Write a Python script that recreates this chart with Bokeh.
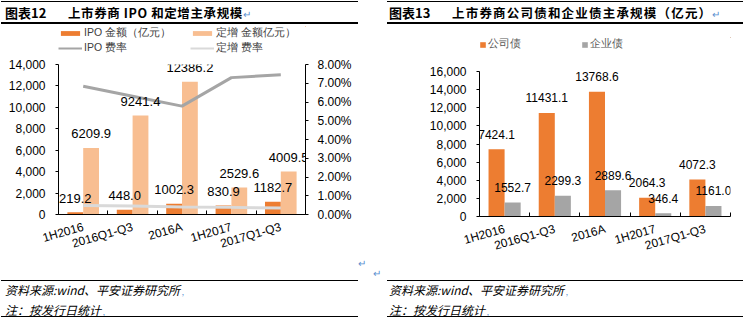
import numpy as np
from bokeh.plotting import figure
from bokeh.core.properties import value
from bokeh.models import (Range1d, LinearAxis, FixedTicker, NumeralTickFormatter, Legend,
                          LegendItem, LabelSet, ColumnDataSource, Div)
from bokeh.layouts import row, column
from bokeh.embed import file_html
from bokeh.resources import INLINE

# ---------------- data ----------------
periods = ["1H2016", "2016Q1-Q3", "2016A", "1H2017", "2017Q1-Q3"]
ipo_amount = [219.2, 448.0, 1002.3, 830.9, 1182.7]
placement_amount = [6209.9, 9241.4, 12386.2, 2529.6, 4009.5]
ipo_fee_rate = [0.0684, 0.0631, 0.0578, 0.0730, 0.0745]
placement_fee_rate = [0.0048, 0.0045, 0.0040, 0.0038, 0.0035]

corp_bond = [7424.1, 11431.1, 13768.6, 2064.3, 4072.3]
ent_bond = [1552.7, 2299.3, 2889.6, 346.4, 1161.0]

left_y_ticks = [0, 2000, 4000, 6000, 8000, 10000, 12000, 14000]
rate_ticks = [0.0, 0.01, 0.02, 0.03, 0.04, 0.05, 0.06, 0.07, 0.08]
right_y_ticks = [0, 2000, 4000, 6000, 8000, 10000, 12000, 14000, 16000]

# ---------------- styles ----------------
NUM_FONT = "Liberation Sans"
CJK_FONT = "Noto Sans CJK SC"
ORANGE = "#ED7D31"
LIGHT_ORANGE = "#F8BE91"
GRAY = "#A5A5A5"
LIGHT_GRAY = "#D9D9D9"

n = len(periods)
centers = np.arange(n) + 0.5
bw = 0.32
label_map = {float(c): name for c, name in zip(centers, periods)}
bounds = [float(b) for b in np.arange(n + 1)]


def style_x_axis(ax):
    ax.ticker = FixedTicker(ticks=[float(c) for c in centers], minor_ticks=bounds)
    ax.major_label_overrides = label_map
    ax.major_label_orientation = 0.28
    ax.major_label_text_font = NUM_FONT
    ax.major_label_text_font_size = "12px"
    ax.major_label_text_color = "#000000"
    ax.major_tick_line_color = None
    ax.major_tick_in = 0
    ax.major_tick_out = 0
    ax.minor_tick_line_color = "#000000"
    ax.minor_tick_in = 4
    ax.minor_tick_out = 0
    ax.axis_line_color = "#000000"
    ax.major_label_standoff = 12


def style_y_axis(ax, ticks, fmt, standoff=10):
    ax.ticker = FixedTicker(ticks=ticks)
    ax.formatter = NumeralTickFormatter(format=fmt)
    ax.major_label_text_font = NUM_FONT
    ax.major_label_text_font_size = "12px"
    ax.major_label_text_color = "#000000"
    ax.major_tick_line_color = "#000000"
    ax.major_tick_in = 0
    ax.major_tick_out = 3
    ax.minor_tick_line_color = None
    ax.axis_line_color = "#000000"
    ax.major_label_standoff = standoff


def legend_strip(width, height, left, top, bottom=0):
    # a strip that only holds the legend; its ranges lie away from the data, so the
    # series drawn here (same sources and styles as the chart) stay out of view
    f = figure(width=width, height=height, x_range=Range1d(-20, -19), y_range=Range1d(-2, -1),
               x_axis_type=None, y_axis_type=None, output_backend="svg", toolbar_location=None,
               min_border_left=left, min_border_top=top, min_border_right=0,
               min_border_bottom=bottom)
    f.outline_line_color = None
    f.xgrid.visible = False
    f.ygrid.visible = False
    return f


def make_legend(items, location, gw, gh, lw, color):
    lg = Legend(items=items, orientation="horizontal", location=location)
    lg.glyph_width = gw
    lg.glyph_height = gh
    lg.label_standoff = 2
    lg.label_width = lw
    lg.label_height = 8
    lg.spacing = 0
    lg.padding = 0
    lg.margin = 0
    lg.border_line_color = None
    lg.background_fill_alpha = 0
    lg.label_text_font = NUM_FONT
    lg.label_text_font_size = "10.5px"
    lg.label_text_color = color
    return lg


# ---------------- left chart ----------------
srcL = ColumnDataSource(dict(
    xc=centers,
    x_ipo=centers - bw / 2,
    x_pl=centers + bw / 2,
    ipo=ipo_amount,
    pl=placement_amount,
    ipo_txt=[f"{v:.1f}" for v in ipo_amount],
    pl_txt=[f"{v:.1f}" for v in placement_amount],
    ipo_rate=ipo_fee_rate,
    pl_rate=placement_fee_rate,
))

pL = figure(width=372, height=206, x_range=Range1d(0, n), y_range=Range1d(0, 14000),
            output_backend="svg", toolbar_location=None,
            min_border_left=58, min_border_right=67, min_border_top=8, min_border_bottom=48)
pL.extra_y_ranges = {"rate": Range1d(0, 0.08)}
pL.outline_line_color = None
pL.xgrid.visible = False
pL.ygrid.visible = False
style_x_axis(pL.xaxis[0])
style_y_axis(pL.yaxis[0], left_y_ticks, "0,0")
rax = LinearAxis(y_range_name="rate")
style_y_axis(rax, rate_ticks, "0.00%", standoff=9)
pL.add_layout(rax, "right")

pL.vbar(x="x_ipo", top="ipo", width=bw, source=srcL, fill_color=ORANGE, line_color=None)
pL.vbar(x="x_pl", top="pl", width=bw, source=srcL, fill_color=LIGHT_ORANGE, line_color=None)
pL.line(x="xc", y="ipo_rate", source=srcL, y_range_name="rate", line_color=GRAY, line_width=3)
pL.line(x="xc", y="pl_rate", source=srcL, y_range_name="rate", line_color=LIGHT_GRAY, line_width=3)

for xcol, ycol, tcol in (("x_ipo", "ipo", "ipo_txt"), ("x_pl", "pl", "pl_txt")):
    pL.add_layout(LabelSet(x=xcol, y=ycol, text=tcol, source=srcL, y_offset=14,
                           text_align="center", text_baseline="middle",
                           text_font=value(NUM_FONT), text_font_size="13px",
                           text_color="#000000"))

lgL = legend_strip(372, 30, 47, 0, bottom=1)
k1 = lgL.vbar(x="x_ipo", top="ipo", width=bw, source=srcL, fill_color=ORANGE, line_color=None)
k2 = lgL.vbar(x="x_pl", top="pl", width=bw, source=srcL, fill_color=LIGHT_ORANGE, line_color=None)
k3 = lgL.line(x="xc", y="ipo_rate", source=srcL, line_color=GRAY, line_width=2)
k4 = lgL.line(x="xc", y="pl_rate", source=srcL, line_color=LIGHT_GRAY, line_width=2)
lgL.add_layout(make_legend([LegendItem(label="IPO 金额（亿元）", renderers=[k1]),
                            LegendItem(label="定增 金额亿元）", renderers=[k2])],
                           "top_left", 24, 6, 106, "#404040"))
lgL.add_layout(make_legend([LegendItem(label="IPO 费率", renderers=[k3]),
                            LegendItem(label="定增 费率", renderers=[k4])],
                           "bottom_left", 24, 6, 106, "#404040"))

# ---------------- right chart ----------------
srcR = ColumnDataSource(dict(
    x_corp=centers - bw / 2,
    x_ent=centers + bw / 2,
    corp=corp_bond,
    ent=ent_bond,
    corp_txt=[f"{v:.1f}" for v in corp_bond],
    ent_txt=[f"{v:.1f}" for v in ent_bond],
))

pR = figure(width=371, height=206, x_range=Range1d(0, n), y_range=Range1d(0, 16000),
            output_backend="svg", toolbar_location=None,
            min_border_left=68, min_border_right=13, min_border_top=15, min_border_bottom=40)
pR.outline_line_color = None
pR.xgrid.visible = False
pR.ygrid.visible = False
style_x_axis(pR.xaxis[0])
style_y_axis(pR.yaxis[0], right_y_ticks, "0,0")

pR.vbar(x="x_corp", top="corp", width=bw, source=srcR, fill_color=ORANGE, line_color=None)
pR.vbar(x="x_ent", top="ent", width=bw, source=srcR, fill_color=GRAY, line_color=None)
for xcol, ycol, tcol in (("x_corp", "corp", "corp_txt"), ("x_ent", "ent", "ent_txt")):
    pR.add_layout(LabelSet(x=xcol, y=ycol, text=tcol, source=srcR, y_offset=15,
                           text_align="center", text_baseline="middle",
                           text_font=value(NUM_FONT), text_font_size="12px",
                           text_color="#000000"))

lgR = legend_strip(371, 30, 107, 11)
j1 = lgR.vbar(x="x_corp", top="corp", width=bw, source=srcR, fill_color=ORANGE, line_color=None)
j2 = lgR.vbar(x="x_ent", top="ent", width=bw, source=srcR, fill_color=GRAY, line_color=None)
lgR.add_layout(make_legend([LegendItem(label="公司债", renderers=[j1]),
                            LegendItem(label="企业债", renderers=[j2])],
                           "top_left", 7, 7, 93, "#595959"))

# ---------------- titles and notes ----------------
MARK = "color:#5B8FD0;font-weight:normal;font-style:normal;font-size:10px;"
BASE = f"position:relative;font-family:'{CJK_FONT}',sans-serif;color:#000;"

title_L = Div(width=372, height=26, margin=0, text=f"""
<div style="{BASE}width:372px;height:26px;">
<div style="position:absolute;left:1px;top:1px;width:357px;border-top:1px solid #000;"></div>
<div style="position:absolute;left:5px;top:3px;line-height:20px;font-size:13px;font-weight:bold;white-space:nowrap;">图表12</div>
<div style="position:absolute;left:68px;top:3px;line-height:20px;font-size:12.5px;font-weight:bold;white-space:nowrap;letter-spacing:0.6px;">上市券商 IPO 和定增主承规模<span style="{MARK}">↵</span></div>
<div style="position:absolute;left:1px;top:22px;width:357px;border-top:2px solid #000;"></div>
</div>""")

title_R = Div(width=371, height=26, margin=0, text=f"""
<div style="{BASE}width:371px;height:26px;">
<div style="position:absolute;left:15px;top:1px;width:356px;border-top:1px solid #000;"></div>
<div style="position:absolute;left:17px;top:3px;line-height:20px;font-size:13px;font-weight:bold;white-space:nowrap;">图表13</div>
<div style="position:absolute;left:80px;top:3px;line-height:20px;font-size:12.5px;font-weight:bold;white-space:nowrap;letter-spacing:1.2px;">上市券商公司债和企业债主承规模（亿元）<span style="{MARK}">↵</span></div>
<div style="position:absolute;left:15px;top:22px;width:356px;border-top:2px solid #000;"></div>
</div>""")

NOTE = "position:absolute;line-height:16px;font-size:12px;font-style:italic;white-space:nowrap;"
foot_L = Div(width=372, height=59, margin=0, text=f"""
<div style="{BASE}width:372px;height:59px;">
<div style="position:absolute;left:358px;top:-6px;{MARK}">↵</div>
<div style="position:absolute;left:1px;top:18px;width:357px;border-top:1px solid #000;"></div>
<div style="{NOTE}left:5px;top:20px;">资料来源:wind、平安证券研究所<span style="{MARK}font-size:8px;"> ,</span></div>
<div style="{NOTE}left:5px;top:40px;">注：按发行日统计<span style="{MARK}font-size:8px;"> ,</span></div>
<div style="position:absolute;left:1px;top:54px;width:357px;border-top:1.5px solid #000;"></div>
</div>""")

foot_R = Div(width=371, height=59, margin=0, text=f"""
<div style="{BASE}width:371px;height:59px;">
<div style="position:absolute;left:1px;top:4px;{MARK}">↵</div>
<div style="position:absolute;left:15px;top:18px;width:356px;border-top:1px solid #000;"></div>
<div style="{NOTE}left:17px;top:20px;">资料来源:wind、平安证券研究所<span style="{MARK}font-size:8px;"> ,</span></div>
<div style="{NOTE}left:17px;top:40px;">注：按发行日统计<span style="{MARK}font-size:8px;"> ,</span></div>
<div style="position:absolute;left:15px;top:54px;width:356px;border-top:1.5px solid #000;"></div>
</div>""")

layout = row(column(title_L, lgL, pL, foot_L, spacing=0),
             column(title_R, lgR, pR, foot_R, spacing=0), spacing=0)

open("out.html", "w").write(file_html(layout, INLINE))
